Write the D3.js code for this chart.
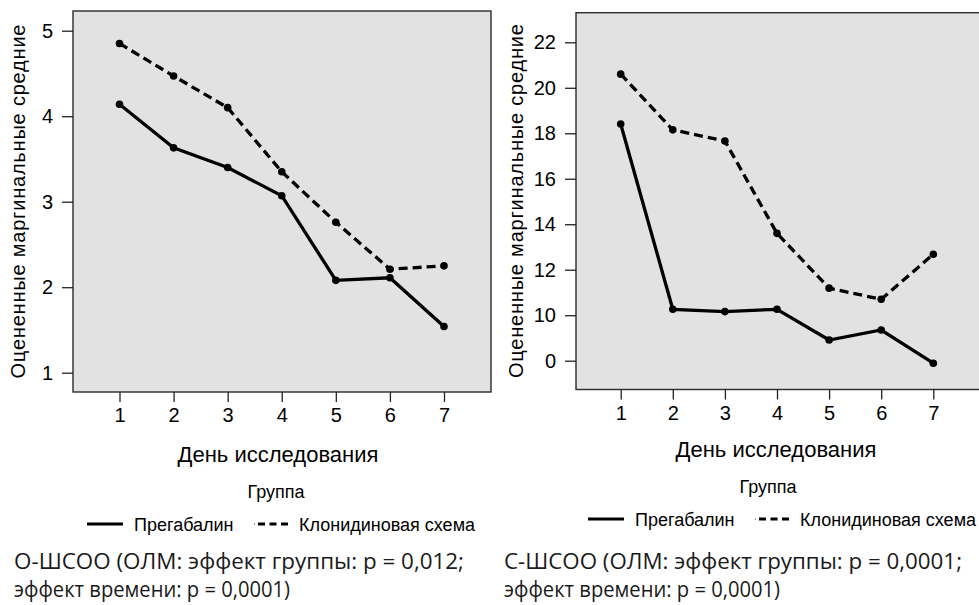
<!DOCTYPE html>
<html>
<head>
<meta charset="utf-8">
<script src="https://cdn.jsdelivr.net/npm/d3@7"></script>
<style>
  body { margin: 0; background: #fff; }
  svg text { font-family: "Liberation Sans", Arial, sans-serif; fill: #000; }
  svg text.caption { font-family: "Open Sans", "Noto Sans", sans-serif; fill: #1a1a1a; }
</style>
</head>
<body>
<svg id="chart" width="979" height="605"></svg>
<script>
// days on the x axis
const days = [1, 2, 3, 4, 5, 6, 7];

// left panel (О-ШСОО)
const leftPregabalin = [4.14, 3.63, 3.40, 3.07, 2.08, 2.11, 1.54];
const leftClonidine = [4.85, 4.47, 4.10, 3.35, 2.76, 2.21, 2.25];
const leftYTicks = [1, 2, 3, 4, 5];
const leftYTickLabels = ["1", "2", "3", "4", "5"];

// right panel (С-ШСОО) - the lowest tick is printed as "0" in the original
const rightPregabalin = [18.41, 10.26, 10.16, 10.26, 8.91, 9.35, 7.89];
const rightClonidine = [20.6, 18.15, 17.66, 13.6, 11.19, 10.70, 12.68];
const rightYTicks = [8, 10, 12, 14, 16, 18, 20, 22];
const rightYTickLabels = ["0", "10", "12", "14", "16", "18", "20", "22"];

const yTitle = "Оцененные маргинальные средние";
const xTitle = "День исследования";
const legendTitle = "Группа";
const seriesNames = ["Прегабалин", "Клонидиновая схема"];
const leftCaption = ["О-ШСОО (ОЛМ: эффект группы: p = 0,012;", "эффект времени: p = 0,0001)"];
const rightCaption = ["С-ШСОО (ОЛМ: эффект группы: p = 0,0001;", "эффект времени: p = 0,0001)"];

const svg = d3.select("#chart");

function drawPanel(p) {
    const g = svg.append("g");

    const x = d3.scaleLinear().domain([1, 7]).range(p.xRange);
    const y = d3.scaleLinear().domain([p.yTicks[0], p.yTicks[p.yTicks.length - 1]]).range(p.yRange);

    // plot area
    g.append("rect")
        .attr("x", p.frame.left)
        .attr("y", p.frame.top)
        .attr("width", p.frame.right - p.frame.left)
        .attr("height", p.frame.bottom - p.frame.top)
        .attr("fill", "#e2e2e2")
        .attr("stroke", "#2b2b2b")
        .attr("stroke-width", 1.4);

    // y axis
    const yAxis = g.append("g")
        .attr("transform", "translate(" + p.frame.left + ",0)")
        .call(d3.axisLeft(y).tickValues(p.yTicks).tickSize(11).tickPadding(9)
            .tickFormat((d, i) => p.yLabels[i]));
    yAxis.select(".domain").remove();
    yAxis.selectAll("line").attr("stroke", "#222").attr("stroke-width", 1.3);
    yAxis.selectAll("text").style("font-size", "20px").attr("fill", "#000");

    // x axis
    const xAxis = g.append("g")
        .attr("transform", "translate(0," + p.frame.bottom + ")")
        .call(d3.axisBottom(x).tickValues(days).tickSize(10).tickPadding(6).tickFormat(d3.format("d")));
    xAxis.select(".domain").remove();
    xAxis.selectAll("line").attr("stroke", "#222").attr("stroke-width", 1.3);
    xAxis.selectAll("text").style("font-size", "20px").attr("fill", "#000");

    // axis titles
    g.append("text")
        .attr("transform", "translate(" + p.yTitleX + "," + (p.frame.top + p.frame.bottom) / 2 + ") rotate(-90)")
        .attr("text-anchor", "middle")
        .style("font-size", "20px")
        .attr("textLength", 354)
        .text(yTitle);

    g.append("text")
        .attr("x", p.xTitleX)
        .attr("y", p.xTitleY)
        .attr("text-anchor", "middle")
        .style("font-size", "22px")
        .text(xTitle);

    // lines
    const line = d3.line().x((d, i) => x(days[i])).y(d => y(d));
    const series = [
        { values: p.pregabalin, dash: null },
        { values: p.clonidine, dash: "9,5" }
    ];
    series.forEach(s => {
        g.append("path")
            .datum(s.values)
            .attr("fill", "none")
            .attr("stroke", "#000")
            .attr("stroke-width", 3.3)
            .attr("stroke-dasharray", s.dash)
            .attr("d", line);
        g.selectAll(null)
            .data(s.values)
            .enter().append("circle")
            .attr("cx", (d, i) => x(days[i]))
            .attr("cy", d => y(d))
            .attr("r", 3.8)
            .attr("fill", "#000");
    });

    // legend
    g.append("text")
        .attr("x", p.legendTitleX)
        .attr("y", p.legendTitleY)
        .attr("text-anchor", "middle")
        .style("font-size", "18px")
        .text(legendTitle);

    const lg = g.append("g").attr("transform", "translate(" + p.legendX + "," + p.legendY + ")");
    lg.append("line").attr("x1", 0).attr("x2", 36).attr("y1", -7).attr("y2", -7)
        .attr("stroke", "#000").attr("stroke-width", 3.2);
    lg.append("text").attr("x", 47).attr("y", 0).style("font-size", "18px").text(seriesNames[0]);
    lg.append("line").attr("x1", 167).attr("x2", 168).attr("y1", -7).attr("y2", -7)
        .attr("stroke", "#999").attr("stroke-width", 2);
    lg.append("line").attr("x1", 171).attr("x2", 203).attr("y1", -7).attr("y2", -7)
        .attr("stroke", "#000").attr("stroke-width", 3.2).attr("stroke-dasharray", "7,4.5");
    lg.append("text").attr("x", 212).attr("y", 0).style("font-size", "18px").text(seriesNames[1]);

    // caption
    p.caption.forEach((t, i) => {
        g.append("text")
            .attr("class", "caption")
            .attr("x", p.captionX)
            .attr("y", p.captionY + i * 28)
            .style("font-size", "22px")
            .attr("textLength", p.captionLen[i])
            .attr("lengthAdjust", "spacingAndGlyphs")
            .text(t);
    });
}

drawPanel({
    frame: { left: 73, right: 491, top: 11, bottom: 392 },
    xRange: [119.5, 444],
    yRange: [372.7, 30.7],
    yTicks: leftYTicks,
    yLabels: leftYTickLabels,
    pregabalin: leftPregabalin,
    clonidine: leftClonidine,
    yTitleX: 25,
    xTitleX: 278, xTitleY: 462,
    legendTitleX: 276, legendTitleY: 498,
    legendX: 87, legendY: 531,
    caption: leftCaption,
    captionX: 14, captionY: 569, captionLen: [450, 276]
});

drawPanel({
    frame: { left: 576, right: 985, top: 12.7, bottom: 389.5 },
    xRange: [620.7, 933.3],
    yRange: [360.7, 42.3],
    yTicks: rightYTicks,
    yLabels: rightYTickLabels,
    pregabalin: rightPregabalin,
    clonidine: rightClonidine,
    yTitleX: 523,
    xTitleX: 776, xTitleY: 457,
    legendTitleX: 768, legendTitleY: 493,
    legendX: 588, legendY: 526,
    caption: rightCaption,
    captionX: 504, captionY: 569, captionLen: [458, 276]
});
</script>
</body>
</html>
